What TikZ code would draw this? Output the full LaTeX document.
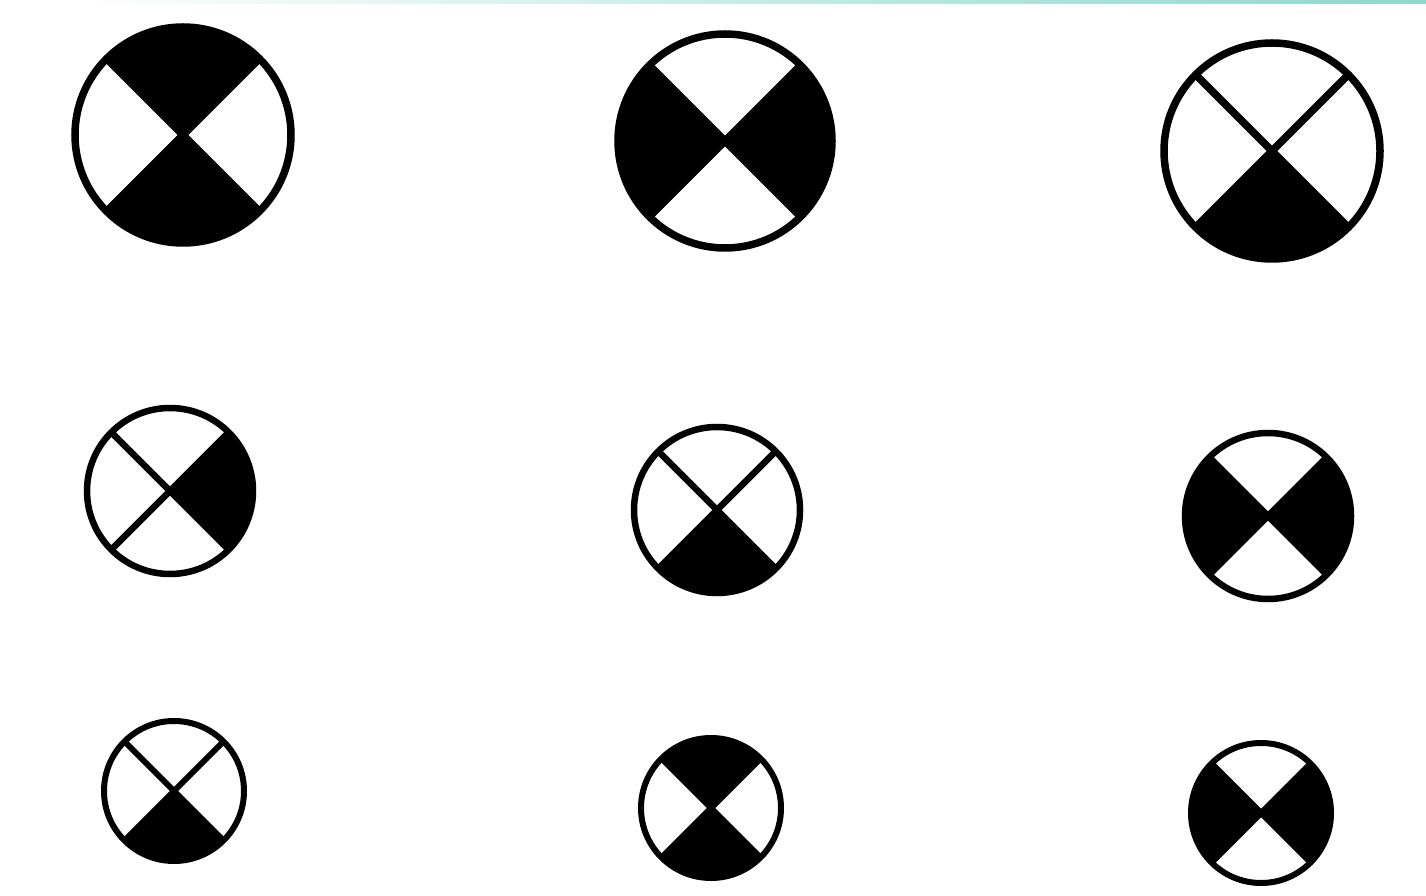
\documentclass[tikz,border=0pt]{standalone}
\usetikzlibrary{calc}
\definecolor{bandteal}{RGB}{140,215,205}
\tikzset{
  symline/.style={draw=black, line cap=butt},
  symfill/.style={fill=black},
}
% #1 cx, #2 cy, #3 radius, #4 line width, #5 start angles of filled quadrants
\newcommand\quadsym[5]{%
  \foreach \a in {#5} {%
    \fill[symfill] (#1,#2) -- ++(\a:#3) arc[start angle=\a, delta angle=90, radius=#3] -- cycle;
  }
  \draw[symline, line width=#4] (#1,#2) circle[radius=#3];
  \draw[symline, line width=#4] ($(#1,#2)+(45:#3)$) -- ($(#1,#2)+(225:#3)$);
  \draw[symline, line width=#4] ($(#1,#2)+(135:#3)$) -- ($(#1,#2)+(315:#3)$);
}
\begin{document}
\begin{tikzpicture}[x=1pt,y=1pt]
\useasboundingbox (0,0) rectangle (1426,895);
\fill[white] (0,0) rectangle (1426,895);
% faint band along the top edge
\shade[left color=white, right color=bandteal] (80,891) rectangle (1426,895);
% row 1
\quadsym{183}{760}{108}{7.5pt}{45,225}
\quadsym{725}{754}{107}{7.5pt}{135,315}
\quadsym{1272}{744}{108}{7.5pt}{225}
% row 2
\quadsym{170}{404}{83}{6.5pt}{315}
\quadsym{717}{385}{83}{6.5pt}{225}
\quadsym{1268}{379}{83}{6.5pt}{135,315}
% row 3
\quadsym{174}{104}{70}{6pt}{225}
\quadsym{711}{87}{70}{6pt}{45,225}
\quadsym{1261}{82}{70}{6pt}{135,315}
\end{tikzpicture}
\end{document}
